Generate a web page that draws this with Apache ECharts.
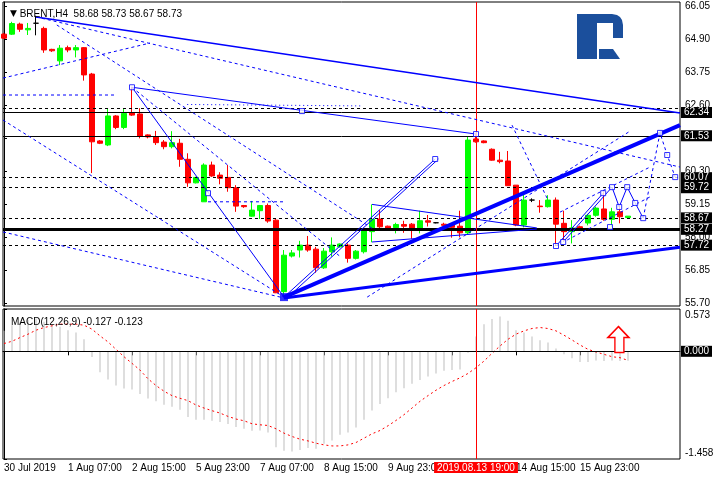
<!DOCTYPE html>
<html><head><meta charset="utf-8">
<script src="https://cdn.jsdelivr.net/npm/echarts@6.0.0/dist/echarts.min.js"></script>
<style>html,body{margin:0;padding:0;background:#fff}#c{width:720px;height:480px}</style>
</head><body><div id="c"></div>
<script>
// ---------- DATA ----------
const opens  = [65.07,65.07,65.42,65.22,65.45,65.27,64.54,64.14,64.60,64.52,64.60,63.68,61.35,61.21,62.22,61.82,62.33,62.29,61.56,61.50,61.31,61.15,61.27,60.71,59.89,59.23,60.51,60.16,60.08,59.72,59.10,58.73,58.92,59.10,58.59,56.10,57.34,57.55,57.72,57.58,56.93,57.49,57.66,57.72,57.26,57.49,58.19,58.63,58.38,58.33,58.44,58.45,58.30,58.57,58.50,58.45,58.45,58.38,58.15,61.42,61.35,61.06,60.68,60.65,59.81,58.42,59.29,59.08,59.06,59.29,58.48,58.19,58.36,58.49,58.76,58.98,58.62,58.88,58.68];
const highs  = [65.11,65.50,65.47,65.46,65.71,65.33,64.56,64.69,64.67,64.69,64.62,63.72,61.38,62.46,62.25,62.46,63.24,62.49,61.58,61.70,61.38,61.69,61.42,60.92,60.10,60.57,60.63,60.26,60.51,59.81,59.12,59.26,59.12,59.17,58.63,57.55,57.55,57.87,58.04,57.66,57.62,57.99,57.78,57.78,57.55,58.25,59.14,58.94,58.40,58.50,58.57,58.49,58.92,58.77,58.52,58.50,58.49,58.92,61.49,61.61,61.37,61.09,60.97,61.00,59.81,59.54,59.35,59.29,59.46,59.38,58.92,58.59,58.40,58.81,59.06,59.58,59.02,59.12,58.73];
const lows   = [64.90,65.04,65.15,65.04,65.03,64.42,64.45,63.99,64.44,64.26,63.45,60.23,61.24,61.17,61.76,61.76,62.22,61.44,61.44,61.21,61.06,61.09,60.45,59.75,59.87,59.23,60.10,59.84,59.58,58.88,59.02,58.71,58.63,58.50,56.05,55.92,57.29,57.29,57.49,56.76,56.89,57.32,57.64,57.11,57.22,57.43,57.82,58.30,58.28,58.13,58.15,57.94,58.13,58.37,58.48,58.34,57.98,57.99,58.10,61.29,61.27,60.66,60.57,59.79,58.38,58.34,59.22,58.85,59.03,57.70,57.84,57.78,58.30,58.41,58.71,58.57,58.35,58.48,58.67];
const closes = [64.93,65.44,65.24,65.27,65.45,64.52,64.49,64.58,64.52,64.60,63.65,61.32,61.27,62.22,61.82,62.31,62.25,61.52,61.49,61.29,61.15,61.29,60.71,59.89,60.08,60.51,60.13,60.05,59.72,59.08,59.06,58.94,59.10,58.56,56.06,57.37,57.45,57.72,57.55,56.93,57.51,57.72,57.76,57.26,57.51,58.21,58.62,58.36,58.30,58.44,58.38,58.30,58.57,58.52,58.50,58.41,58.34,58.15,61.38,61.32,61.29,60.68,60.63,59.79,58.42,59.29,59.29,59.06,59.29,58.45,58.19,58.32,58.32,58.76,59.01,58.62,58.88,58.71,58.73];

const macdMain = [0.277,0.354,0.39,0.427,0.445,0.40,0.368,0.331,0.286,0.255,0.163,-0.077,-0.282,-0.381,-0.463,-0.504,-0.518,-0.577,-0.64,-0.677,-0.722,-0.749,-0.79,-0.89,-0.926,-0.926,-0.94,-0.958,-0.985,-1.026,-1.049,-1.076,-1.072,-1.099,-1.30,-1.345,-1.358,-1.335,-1.31,-1.32,-1.253,-1.208,-1.131,-1.099,-1.03,-0.926,-0.80,-0.713,-0.636,-0.554,-0.50,-0.44,-0.39,-0.34,-0.30,-0.264,-0.254,-0.245,-0.02,0.20,0.368,0.436,0.472,0.413,0.286,0.255,0.20,0.15,0.118,0.037,-0.041,-0.095,-0.146,-0.146,-0.123,-0.13,-0.123,-0.13,-0.127];
const macdSignal = [0.105,0.136,0.186,0.232,0.286,0.322,0.345,0.368,0.368,0.368,0.354,0.30,0.209,0.127,0.027,-0.073,-0.163,-0.254,-0.372,-0.463,-0.54,-0.60,-0.636,-0.668,-0.727,-0.768,-0.804,-0.836,-0.881,-0.917,-0.94,-0.981,-0.995,-1.004,-1.049,-1.108,-1.153,-1.19,-1.213,-1.244,-1.267,-1.281,-1.281,-1.267,-1.235,-1.176,-1.117,-1.072,-1.008,-0.936,-0.858,-0.768,-0.677,-0.60,-0.527,-0.463,-0.409,-0.359,-0.30,-0.222,-0.132,-0.027,0.072,0.163,0.232,0.277,0.309,0.322,0.309,0.277,0.218,0.154,0.086,0.027,-0.009,-0.041,-0.073,-0.086,-0.123];

const xTickIdx    = [0, 8, 16, 24, 32, 40, 48, 56, 64, 72];
const xTickLabels = ['30 Jul 2019','1 Aug 07:00','2 Aug 15:00','5 Aug 23:00','7 Aug 07:00','8 Aug 15:00','9 Aug 23:00','13 Aug 07:00','14 Aug 15:00','15 Aug 23:00'];
const priceTicks  = [55.70, 56.85, 58.00, 59.15, 60.30, 61.45, 62.60, 63.75, 64.90, 66.05];
const macdTicks   = [0.573, -1.458];

const levelsSolid  = [62.34, 61.53];
const levelsDashed = [62.49, 60.07, 59.72, 58.67, 57.72];
const levelsThick  = [58.27];
const levelsLabeled = [62.34, 61.53, 60.07, 59.72, 58.67, 58.27, 57.72];

const markedBar = 59;
const markedBarLabel = '2019.08.13 19:00';
const symbolName = 'BRENT,H4';
const macdName = 'MACD(12,26,9)';
const arrowAt = [76.8, 0.16];

// drawn objects: anchors as [bar index, price]
const lineA      = [[4, 65.67], [84.5, 62.32]];
const lineB      = [[16, 63.22], [59, 61.59]];
const lineC      = [[16, 63.22], [35, 55.91]];
const trendUpper = [[35, 55.91], [84.5, 61.90]];
const trendLower = [[35, 55.88], [84.5, 57.65]];
const channelS1  = [[35, 55.91], [53.9, 60.72]];
const channelS2  = [[35.5, 55.91], [54.3, 60.72]];
const triUpper   = [[46, 59.14], [66.6, 58.32]];
const triLower   = [[46, 57.83], [66.6, 58.28]];
const wave1      = [[69, 57.69], [74.9, 59.53]];
const wave2      = [[69.9, 57.83], [76, 59.74], [76.9, 59.05], [77.9, 59.74], [78.9, 59.19], [79.9, 58.66]];
const forecast   = [[79.9, 58.66], [82, 61.63], [82.9, 60.86], [83.9, 60.09]];
const fanL1      = [[4, 65.67], [84.5, 60.44]];
const fanL5      = [[6.6, 65.39], [46, 58.31]];
const fanL6      = [[16, 63.22], [42, 57.33]];
const leftL3     = [[-0.125, 62.08], [35, 55.91]];
const leftL4     = [[-0.125, 58.18], [35, 55.88]];
const leftRise   = [[-0.125, 63.54], [18.25, 64.76]];
const leftFlat   = [[-0.125, 62.95], [13.9, 62.95]];
const midFlat    = [[25.5, 59.23], [34.9, 59.23]];
const rightR1    = [[45.4, 55.91], [78.25, 61.69]];
const zigUpper   = [[69.5, 58.87], [80.75, 60.44]];
const zigLower   = [[70.4, 57.90], [80.75, 59.40]];
const steepR     = [[63.5, 61.90], [68, 59.29]];
const dotFlat    = [[22.9, 62.62], [44.9, 62.57]];
const anchors    = [[16,63.22],[37.25,62.39],[59,61.59],[53.9,60.72],[25.5,59.53],[69,57.69],[69.9,57.83],[74.9,59.53],[76,59.74],[76.9,59.05],[77.9,59.74],[78.9,59.19],[79.9,58.66],[82,61.63],[82.9,60.86],[83.9,60.09],[75.75,58.35]];
const pivotLow   = [[35, 55.91]];

// ---------- CHART ----------
const FONT = 'Liberation Sans';
const BLUE = '#0000ff';
const chart = echarts.init(document.getElementById('c'), null, {renderer: 'canvas'});

const lastBar = opens.length - 1;
const titleText = symbolName + '  ' + [opens[lastBar], highs[lastBar], lows[lastBar], closes[lastBar]].map(v => v.toFixed(2)).join(' ');
const macdTitle = macdName + ' ' + macdMain[lastBar].toFixed(3) + ' ' + macdSignal[lastBar].toFixed(3);

function lineSeries(pts, width, type, z) {
  return {type: 'line', xAxisIndex: 0, yAxisIndex: 0, data: pts, showSymbol: false, silent: true,
    lineStyle: {color: BLUE, width: width, type: type}, z: z || 4, animation: false};
}
const solidThin = [lineB, lineC, channelS1, channelS2, triUpper, triLower, wave1, wave2];
const dashedThin = [fanL1, fanL5, fanL6, leftL3, leftL4, leftRise, leftFlat, midFlat, rightR1, zigUpper, zigLower, steepR, forecast];

const levelLabel = {show: true, position: 'end', distance: 1, formatter: p => p.value.toFixed(2),
  backgroundColor: '#000', color: '#fff', fontFamily: FONT, fontSize: 10, padding: [1, 3, 0, 3], lineHeight: 10};
const levelData = [];
levelsSolid.forEach(v => levelData.push({yAxis: v, lineStyle: {type: 'solid', width: 1, color: '#000'}}));
levelsDashed.forEach(v => levelData.push({yAxis: v, lineStyle: {type: [3, 3], width: 1, color: '#000'}}));
levelsThick.forEach(v => levelData.push({yAxis: v, lineStyle: {type: 'solid', width: 3, color: '#000'}}));
levelData.forEach(d => { d.label = levelsLabeled.includes(d.yAxis) ? levelLabel : {show: false}; });
levelData.push({xAxis: markedBar, lineStyle: {type: 'solid', width: 1, color: '#ff0000'}, label: {show: false}});

const series = [
  {
    type: 'candlestick', xAxisIndex: 0, yAxisIndex: 0,
    data: opens.map((o, i) => [i, o, closes[i], lows[i], highs[i]]),
    encode: {x: 0, y: [1, 2, 3, 4]},
    barWidth: 5, z: 2,
    itemStyle: {color: '#00ff00', color0: '#ff0000', borderColor: '#00ff00', borderColor0: '#ff0000', borderColorDoji: '#000000', borderWidth: 1},
    markLine: {silent: true, symbol: 'none', animation: false, z: 3, data: levelData}
  },
  lineSeries(lineA, 1.5, 'solid'),
  lineSeries(trendUpper, 4, 'solid', 5),
  lineSeries(trendLower, 3, 'solid', 5),
  ...solidThin.map(p => lineSeries(p, 1, 'solid')),
  ...dashedThin.map(p => lineSeries(p, 1, [3, 3])),
  lineSeries(dotFlat, 1, [1, 3]),
  {type: 'scatter', xAxisIndex: 0, yAxisIndex: 0, data: anchors, symbol: 'rect', symbolSize: 5, silent: true, z: 6,
    itemStyle: {color: '#fff', borderColor: BLUE, borderWidth: 1}},
  {type: 'scatter', xAxisIndex: 0, yAxisIndex: 0, data: pivotLow, symbol: 'rect', symbolSize: 8, silent: true, z: 6,
    itemStyle: {color: BLUE}},
  {
    type: 'bar', xAxisIndex: 1, yAxisIndex: 1,
    data: macdMain.map((v, i) => [i, v]), barWidth: 1, silent: true,
    itemStyle: {color: '#bdbdbd'},
    markLine: {silent: true, symbol: 'none', animation: false, z: 5, data: [
      {yAxis: 0, lineStyle: {type: 'solid', width: 1, color: '#000'},
        label: {show: true, position: 'end', distance: 1, formatter: () => (0).toFixed(3), backgroundColor: '#000', color: '#fff',
          fontFamily: FONT, fontSize: 10, padding: [1, 3, 0, 3], lineHeight: 10}},
      {xAxis: markedBar, lineStyle: {type: 'solid', width: 1, color: '#ff0000'},
        label: {show: true, position: 'start', distance: 3, formatter: markedBarLabel, backgroundColor: '#ff0000', color: '#fff',
          fontFamily: FONT, fontSize: 10, padding: [1, 3, 0, 3], lineHeight: 10}}
    ]},
    markPoint: {silent: true, animation: false, data: [{coord: arrowAt}],
      symbol: 'path://M10.5,0 L21,11 L16,11 L16,26 L7,26 L7,11 L0,11 Z', symbolSize: [21, 26],
      itemStyle: {color: '#ffffff', borderColor: '#ff0000', borderWidth: 1.5}, label: {show: false}}
  },
  {
    type: 'line', xAxisIndex: 1, yAxisIndex: 1, data: macdSignal.map((v, i) => [i, v]),
    showSymbol: false, silent: true, z: 4,
    lineStyle: {color: '#ff0000', width: 1, type: [2, 3]}
  }
];

const option = {
  animation: false,
  backgroundColor: '#ffffff',
  textStyle: {fontFamily: FONT},
  title: [
    {text: '{tri|▼} ' + titleText, left: 5, top: 4,
      textStyle: {fontSize: 10, fontWeight: 'normal', color: '#000', fontFamily: FONT,
        rich: {tri: {fontSize: 9, fontFamily: 'DejaVu Sans', color: '#000'}}}},
    {text: macdTitle, left: 6, top: 312,
      textStyle: {fontSize: 10, fontWeight: 'normal', color: '#000', fontFamily: FONT}}
  ],
  graphic: [
    {type: 'polygon', silent: true, z: 1,
      shape: {points: [[577,14],[612,14],[617,15],[620,17],[622,20],[623,25],[623,38],[613,38],[613,23],[597,23],[597,59],[577,59]]},
      style: {fill: '#1b4f9c'}},
    {type: 'polygon', silent: true, z: 1,
      shape: {points: [[599,49],[613,49],[620,59],[599,59]]},
      style: {fill: '#1b4f9c'}}
  ],
  grid: [
    {left: 3, right: 40, top: 2, height: 304, show: true, borderColor: '#000', borderWidth: 1, backgroundColor: 'transparent'},
    {left: 3, right: 40, top: 309, height: 150, show: true, borderColor: '#000', borderWidth: 1, backgroundColor: 'transparent'}
  ],
  xAxis: [
    {type: 'value', gridIndex: 0, min: -0.125, max: 84.5, axisLabel: {show: false}, axisTick: {show: false},
      axisLine: {show: false}, splitLine: {show: false}},
    {type: 'value', gridIndex: 1, min: -0.125, max: 84.5, position: 'bottom',
      axisLine: {show: true, lineStyle: {color: '#000'}},
      axisTick: {show: true, length: 4, lineStyle: {color: '#000'}, customValues: xTickIdx},
      axisLabel: {show: true, customValues: xTickIdx, align: 'left', margin: 4, color: '#000', fontSize: 10, fontFamily: FONT,
        formatter: v => { const k = xTickIdx.indexOf(Math.round(v)); return k >= 0 ? xTickLabels[k] : ''; }},
      splitLine: {show: false}}
  ],
  yAxis: [
    {type: 'value', gridIndex: 0, position: 'right', min: 55.60, max: 66.19, scale: true,
      axisLine: {show: true, lineStyle: {color: '#000'}},
      axisTick: {show: true, length: 3, lineStyle: {color: '#000'}, customValues: priceTicks},
      axisLabel: {show: true, customValues: priceTicks, margin: 5, color: '#000', fontSize: 10, fontFamily: FONT,
        formatter: v => v.toFixed(2)},
      splitLine: {show: false}},
    {type: 'value', gridIndex: 1, position: 'right', min: -1.458, max: 0.573,
      axisLine: {show: true, lineStyle: {color: '#000'}},
      axisTick: {show: true, length: 3, lineStyle: {color: '#000'}, customValues: macdTicks},
      axisLabel: {show: true, customValues: macdTicks, margin: 5, color: '#000', fontSize: 10, fontFamily: FONT,
        formatter: v => v > 0 ? '{t|' + v.toFixed(3) + '}' : '{b|' + v.toFixed(3) + '}',
        rich: {t: {padding: [12, 0, 0, 0], fontSize: 10, fontFamily: FONT, color: '#000'},
               b: {padding: [0, 0, 12, 0], fontSize: 10, fontFamily: FONT, color: '#000'}}},
      splitLine: {show: false}}
  ],
  series: series
};
chart.setOption(option);
</script>
</body></html>
